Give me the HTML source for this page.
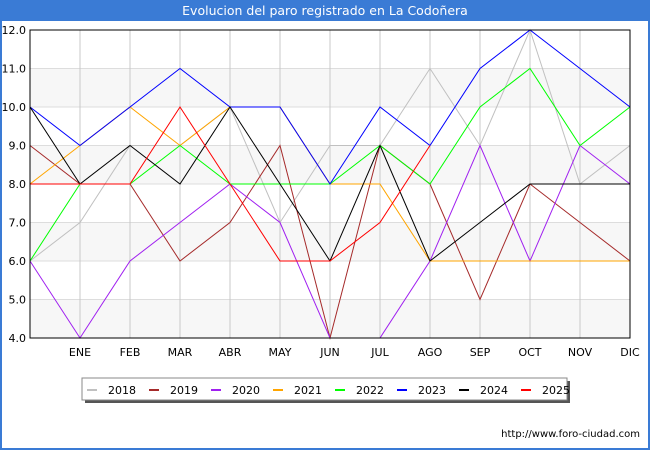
<!DOCTYPE html>
<html><head><meta charset="utf-8"><style>
body{margin:0;width:650px;height:450px;background:#fff;font-family:"Liberation Sans","DejaVu Sans",sans-serif;overflow:hidden}
svg text{font-family:"DejaVu Sans","Liberation Sans",sans-serif}
</style></head><body>
<svg id="c" width="650" height="450">
<rect x="0" y="0" width="650" height="450" fill="#fff"/>
<rect x="0" y="0" width="650" height="21" fill="#3a7bd5"/>
<rect x="0" y="0" width="2" height="450" fill="#3a7bd5"/>
<rect x="648" y="0" width="2" height="450" fill="#3a7bd5"/>
<rect x="0" y="448" width="650" height="2" fill="#3a7bd5"/>
<text x="325" y="15" text-anchor="middle" font-size="12.5" fill="#fff">Evolucion del paro registrado en La Codoñera</text>
<g id="grid"></g><g id="series"></g>
<rect x="30" y="30" width="600" height="308" fill="none" stroke="#000" stroke-width="1"/>
<g id="legend"></g>
<text x="640" y="437" text-anchor="end" font-size="10" fill="#000">http://www.foro-ciudad.com</text>
</svg>
<script>
const months=["","ENE","FEB","MAR","ABR","MAY","JUN","JUL","AGO","SEP","OCT","NOV","DIC"];
const yTicks=[4,5,6,7,8,9,10,11,12];
const years=["2018","2019","2020","2021","2022","2023","2024","2025"];
const colors=["#c0c0c0","#a52a2a","#a020f0","#ffa500","#00ff00","#0000ff","#000000","#ff0000"];
const s2018=[6,7,9,9,10,7,9,9,11,9,12,8,9];
const s2019=[9,8,8,6,7,9,4,9,8,5,8,7,6];
const s2020=[6,4,6,7,8,7,4,4,6,9,6,9,8];
const s2021=[8,9,10,9,10,10,8,8,6,6,6,6,6];
const s2022=[6,8,8,9,8,8,8,9,8,10,11,9,10];
const s2023=[10,9,10,11,10,10,8,10,9,11,12,11,10];
const s2024=[10,8,9,8,10,8,6,9,6,7,8,8,8];
const s2025=[8,8,8,10,8,6,6,7,9];
const allSeries=[s2018,s2019,s2020,s2021,s2022,s2023,s2024,s2025];
const NS="http://www.w3.org/2000/svg";
const X=i=>30+i*50, Y=v=>338-(v-4)*38.5;
const g=document.getElementById('grid');
function mk(t,a,p){const e=document.createElementNS(NS,t);for(const k in a)e.setAttribute(k,a[k]);p.appendChild(e);return e;}
for(let i=0;i<yTicks.length-1;i++){
  if(i%2==0){const r=mk('rect',{x:30,y:Y(yTicks[i+1]),width:600,height:Y(yTicks[i])-Y(yTicks[i+1]),fill:'#f7f7f7'},g);
  
  }
}
yTicks.forEach(v=>{
  const l=mk('line',{x1:30,x2:630,y1:Y(v),y2:Y(v),stroke:'#dddddd'},g);
  
  
  const t=mk('text',{x:26,y:Y(v)+4,'text-anchor':'end','font-size':'11',fill:'#000'},g);
  t.textContent=v.toFixed(1);
  
  
});
months.forEach((m,i)=>{
  if(i==0)return;
  const l=mk('line',{x1:X(i),x2:X(i),y1:30,y2:338,stroke:'#c8c8c8'},g);
  
  
  const t=mk('text',{x:X(i),y:356,'text-anchor':'middle','font-size':'11',fill:'#000'},g);
  t.textContent=m;
  
  
});
const sg=document.getElementById('series');
allSeries.forEach((s,k)=>{
  const p=mk('polyline',{points:s.map((v,i)=>X(i)+','+Y(v)).join(' '),fill:'none',stroke:colors[k],'stroke-width':'1'},sg);
  
  
});
const lg=document.getElementById('legend');
mk('rect',{x:85,y:381,width:485,height:22,fill:'#555'},lg);
mk('rect',{x:82,y:378,width:485,height:22,fill:'#fff',stroke:'#888'},lg);
years.forEach((y,k)=>{
  const x0=87+k*62;
  const l=mk('line',{x1:x0,x2:x0+10,y1:390,y2:390,stroke:colors[k],'stroke-width':'2'},lg);
  
  
  const t=mk('text',{x:x0+21,y:394,'font-size':'11',fill:'#000'},lg);
  t.textContent=y;
  
  
});
</script>
</body></html>
